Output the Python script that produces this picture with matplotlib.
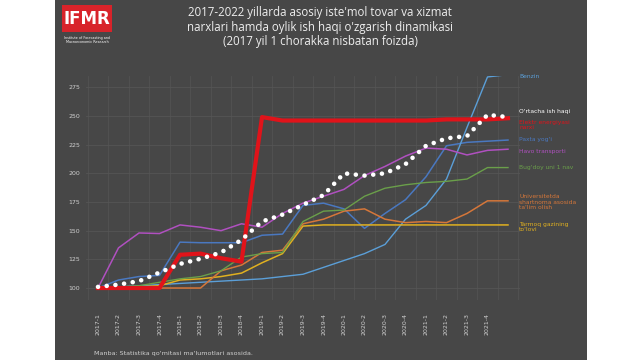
"""
Narxlar va oylik ish haqi dinamikasi (2017 yil 1 chorak = 100).
"""
import matplotlib
matplotlib.use("Agg")
import matplotlib.pyplot as plt
from matplotlib.patches import Rectangle

W, H = 640, 360

quarters = ["2017-1", "2017-2", "2017-3", "2017-4",
            "2018-1", "2018-2", "2018-3", "2018-4",
            "2019-1", "2019-2", "2019-3", "2019-4",
            "2020-1", "2020-2", "2020-3", "2020-4",
            "2021-1", "2021-2", "2021-3", "2021-4", "2022-1"]
tick_labels = quarters[:-1]   # last quarter has no label on the chart

benzin = [100, 101, 102, 103, 104, 105, 106, 107, 108, 110, 112,
          118, 124, 130, 138, 160, 172, 195, 240, 284, 286]
ish_haqi = [101, 103, 106, 113.5, 121, 125.5, 131, 142, 158, 164, 172.5,
            181, 200, 198, 200, 208, 224, 230.5, 232.5, 251, 249]
elektr = [100, 100, 100, 100, 129, 130, 126, 123, 249, 246, 246,
          246, 246, 246, 246, 246, 246, 247, 247, 247, 248]
paxta_yogi = [100, 107, 110, 111, 140, 139.5, 139.5, 139.5, 146, 147, 172,
              174, 169, 152, 165, 177, 197, 224, 227, 228, 229]
havo_transporti = [100, 135, 148, 147.5, 155, 153, 150, 156, 153, 165, 174,
                   180, 186, 198, 206, 215, 222, 221, 216, 220, 221]
bugdoy_uni = [100, 101, 102, 105, 108, 110, 115, 127, 130, 131, 158,
              167, 168, 180, 187, 190, 192, 193, 195, 205, 205]
universitet = [100, 100, 100, 100, 100, 100, 115, 120, 131, 133, 156,
               160, 167, 169, 160, 157, 158, 157, 165, 176, 176]
tarmoq_gazi = [100, 100, 101, 102, 107, 108, 110, 113, 122, 130, 154,
               155, 155, 155, 155, 155, 155, 155, 155, 155, 155]

yticks = [100, 125, 150, 175, 200, 225, 250, 275]

BG = "#474747"
TXT = "#cfcfcf"

fig = plt.figure(figsize=(W / 100, H / 100), dpi=100)
fig.patch.set_facecolor("white")

# dark panel behind everything
bg = fig.add_axes([55 / W, 0, (587 - 55) / W, 1], zorder=-1)
bg.set_facecolor(BG)
bg.set_xticks([]); bg.set_yticks([])
for s in bg.spines.values():
    s.set_visible(False)

ax = fig.add_axes([85.7 / W, 1 - 299.5 / H, (520.3 - 85.7) / W, (299.5 - 75.8) / H], zorder=1)
ax.set_facecolor("none")
x = list(range(len(quarters)))

series = [
    (paxta_yogi, "#4a78c0", 1.1, 3),
    (benzin, "#5b9fd8", 1.0, 3),
    (tarmoq_gazi, "#e0b020", 1.1, 3),
    (universitet, "#d6773a", 1.1, 3),
    (bugdoy_uni, "#6a9f4a", 1.0, 3),
    (havo_transporti, "#b050c0", 1.1, 3),
]
for vals, col, lw, z in series:
    ax.plot(x, vals, color=col, lw=lw, zorder=z, solid_joinstyle="round")
ax.plot(x, elektr, color="#e0131a", lw=3.0, zorder=4, solid_joinstyle="round")
ax.plot(x, ish_haqi, color="white", lw=3.3, ls=(0, (0.01, 1.9)),
        dash_capstyle="round", zorder=5)

ax.set_xlim(-0.6, 20.6)
ax.set_ylim(90, 285)
ax.set_yticks(yticks)
ax.set_yticklabels([str(v) for v in yticks])
ax.set_xticks(x[:-1])
ax.set_xticklabels(tick_labels, rotation=90, va="top")
ax.set_xticks([i + 0.5 for i in range(-1, 21)], minor=True)
ax.tick_params(axis="both", which="both", length=0, colors=TXT, labelsize=4.5)
ax.tick_params(axis="x", pad=10)
ax.tick_params(axis="y", pad=4)
ax.grid(axis="y", color="#555555", lw=0.6)
ax.grid(axis="x", which="minor", color="#525252", lw=0.6)
for s in ax.spines.values():
    s.set_visible(False)

# title
fig.text(320 / W, 1 - 27 / H,
         "2017-2022 yillarda asosiy iste'mol tovar va xizmat\n"
         "narxlari hamda oylik ish haqi o'zgarish dinamikasi\n"
         "(2017 yil 1 chorakka nisbatan foizda)",
         ha="center", va="center", color="#eeeeee", fontsize=8.3,
         linespacing=1.15, family="Open Sans")

# logo
fig.patches.append(Rectangle((62 / W, 1 - 32 / H), 50 / W, 27 / H, transform=fig.transFigure,
                             facecolor="#d8232a", edgecolor="none", zorder=1))
fig.text(87 / W, 1 - 19 / H, "IFMR", ha="center", va="center", color="white",
         fontsize=12, fontweight="bold", family="Liberation Sans Narrow")
fig.text(87 / W, 1 - 40 / H, "Institute of Forecasting and\nMacroeconomic Research",
         ha="center", va="center", color="white", fontsize=2.4, linespacing=1.3)

# series labels on the right
labels = [
    (77, "Benzin", "#5b9fd8"),
    (112, "O'rtacha ish haqi", "white"),
    (125, "Elektr energiyasi\nnarxi", "#e0131a"),
    (140, "Paxta yog'i", "#4a78c0"),
    (151, "Havo transporti", "#b050c0"),
    (167, "Bug'doy uni 1 nav", "#6a9f4a"),
    (202, "Universitetda\nshartnoma asosida\nta'lim olish", "#d6773a"),
    (227, "Tarmoq gazining\nto'lovi", "#e0b020"),
]
for y, txt, col in labels:
    fig.text(519 / W, 1 - y / H, txt, ha="left", va="center", color=col,
             fontsize=4.3, linespacing=1.1)

fig.text(94 / W, 1 - 354 / H, "Manba: Statistika qo'mitasi ma'lumotlari asosida.",
         ha="left", va="center", color=TXT, fontsize=4.6)

fig.savefig("out.png", dpi=100)
